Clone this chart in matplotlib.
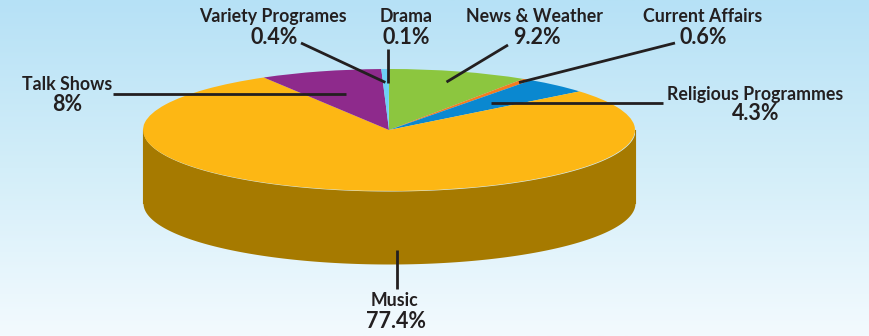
import numpy as np
import matplotlib
matplotlib.use("Agg")
import matplotlib.pyplot as plt
from matplotlib.colors import LinearSegmentedColormap

# slices, clockwise from 12 o'clock
labels = ["News & Weather", "Current Affairs", "Religious Programmes", "Music",
          "Talk Shows", "Variety Programes", "Drama"]
shares = [9.2, 0.6, 4.3, 77.4, 8, 0.4, 0.1]
pct_text = ["9.2%", "0.6%", "4.3%", "77.4%", "8%", "0.4%", "0.1%"]
colors = ["#8cc63f", "#f47b20", "#0a88d0", "#fdb714", "#8e2a8c", "#6dcff6", "#6dcff6"]
side_color = "#a67a00"

W, H = 870, 336
cx, cy, a, b = 389, 130, 246, 61   # ellipse in pixels
depth = 73 / b                     # side thickness in data units

fig = plt.figure(figsize=(W / 100, H / 100), dpi=100)

# background gradient
bg = fig.add_axes([0, 0, 1, 1])
bg.set_axis_off()
grad = np.linspace(0, 1, 256).reshape(-1, 1)
cmap = LinearSegmentedColormap.from_list("bg", ["#b6e1f6", "#d3eef9", "#f3fafe"])
bg.imshow(grad, aspect="auto", cmap=cmap, extent=[0, 1, 0, 1])

ax = fig.add_axes([0, 0, 1, 1])
ax.patch.set_alpha(0)


def px(x, y):
    # pixel -> data
    return (x - cx) / a, (cy - y) / b


# side wall of the front half
t = np.linspace(np.pi, 2 * np.pi, 300)
xs = np.cos(t)
ys = np.sin(t)
ax.fill_between(xs, ys - depth, ys, color=side_color, lw=0, zorder=1)
ax.plot([-1, -1], [-depth, 0], color=side_color, lw=0.8, zorder=1)
ax.plot([1, 1], [-depth, 0], color=side_color, lw=0.8, zorder=1)

wedges, _ = ax.pie(shares, colors=colors, startangle=90, counterclock=False,
                   wedgeprops=dict(lw=0, antialiased=True))
for w in wedges:
    w.set_zorder(2)

ax.set_aspect("auto")
x0, y0 = px(0, 0)
x1, y1 = px(W, H)
ax.set_xlim(x0, x1)
ax.set_ylim(y1, y0)
ax.set_axis_off()

plt.rcParams["font.family"] = ["Lato", "DejaVu Sans"]

# label layout: (label centre px, pct centre px, leader end px, anchor radius)
layout = {
    "News & Weather": ((535, 16), (537, 37), (508, 45), 0.82),
    "Current Affairs": ((703, 16), (703, 37), (675, 43), 0.94),
    "Religious Programmes": ((755, 94), (756, 113), (663, 102), 0.61),
    "Talk Shows": ((67, 84), (67, 104), (113, 94), 0.62),
    "Variety Programes": ((273, 16), (274, 37), (301, 43), 0.78),
    "Drama": ((406, 16), (406, 37), (390, 49), 0.77),
}

angle = 90.0
for lab, s, p in zip(labels, shares, pct_text):
    mid = angle - s * 3.6 / 2
    angle -= s * 3.6
    if lab == "Music":
        lx, ly = (395, 301)
        pxy = (396, 322)
        sx, sy = px(397, 250)
        ex, ey = px(397, 289)
    else:
        (lx, ly), pxy, end, r = layout[lab]
        sx, sy = r * np.cos(np.radians(mid)), r * np.sin(np.radians(mid))
        if lab in ("Religious Programmes", "Talk Shows"):
            ex, ey = px(end[0], cy - sy * b)
        elif lab == "Drama":
            ex, ey = sx, px(0, end[1])[1]
        else:
            ex, ey = px(*end)
    ax.plot([sx, ex], [sy, ey], color="#231f20", lw=2, zorder=3,
            solid_capstyle="butt")
    ax.text(*px(lx, ly), lab, ha="center", va="center", fontsize=12.8,
            fontweight="bold", color="#231f20", zorder=4)
    ax.text(*px(*pxy), p, ha="center", va="center", fontsize=15.5,
            fontweight="bold", color="#231f20", zorder=4)

fig.savefig("out.png", dpi=100)
